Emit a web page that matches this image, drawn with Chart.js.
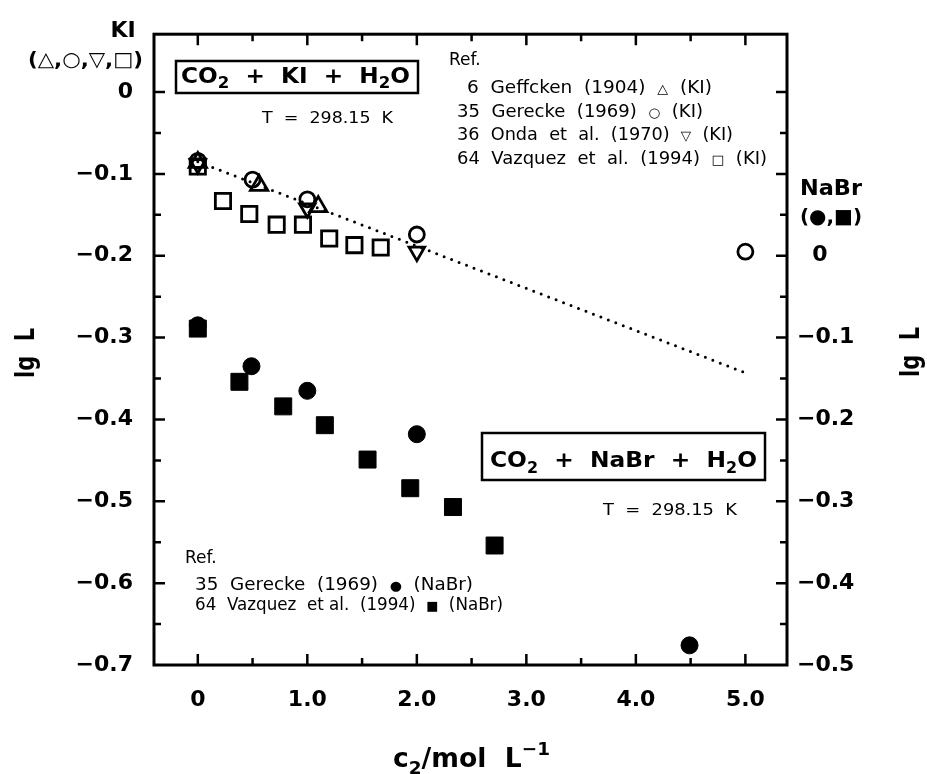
<!DOCTYPE html>
<html>
<head>
<meta charset="utf-8">
<script src="https://cdn.jsdelivr.net/npm/chart.js@4.4.1/dist/chart.umd.min.js"></script>
<style>
  html, body { margin: 0; padding: 0; background: #fff; }
  #wrap { width: 927px; height: 774px; }
</style>
</head>
<body>
<div id="wrap"><canvas id="chart" width="927" height="774"></canvas></div>
<script>
// values: c2 in mol/L, lg L
// KI series use the left axis, NaBr series the right axis
const kiGeffckenC = [0, 0.56, 1.1];
const kiGeffckenL = [-0.086, -0.114, -0.140];
const kiGereckeC = [0, 0.5, 1.0, 2.0, 5.0];
const kiGereckeL = [-0.084, -0.107, -0.131, -0.174, -0.195];
const kiOndaC = [0, 1.0, 2.0];
const kiOndaL = [-0.088, -0.142, -0.195];
const kiVazquezC = [0, 0.23, 0.47, 0.72, 0.96, 1.2, 1.43, 1.67];
const kiVazquezL = [-0.091, -0.133, -0.149, -0.162, -0.162, -0.179, -0.187, -0.190];
const kiTrendC = [0, 5.0];
const kiTrendL = [-0.085, -0.343];

const nabrGereckeC = [0, 0.49, 1.0, 2.0, 4.49];
const nabrGereckeL = [-0.085, -0.135, -0.165, -0.218, -0.476];
const nabrVazquezC = [0, 0.38, 0.78, 1.16, 1.55, 1.94, 2.33, 2.71];
const nabrVazquezL = [-0.089, -0.154, -0.184, -0.207, -0.249, -0.284, -0.307, -0.354];

const xTickValues = [0, 1, 2, 3, 4, 5];
const xTickLabels = ['0', '1.0', '2.0', '3.0', '4.0', '5.0'];
const leftTickValues = [0, -0.1, -0.2, -0.3, -0.4, -0.5, -0.6, -0.7];
const leftTickLabels = ['0', '\u22120.1', '\u22120.2', '\u22120.3', '\u22120.4', '\u22120.5', '\u22120.6', '\u22120.7'];
const rightTickValues = [0, -0.1, -0.2, -0.3, -0.4, -0.5];
const rightTickLabels = ['\u20070', '\u22120.1', '\u22120.2', '\u22120.3', '\u22120.4', '\u22120.5'];

const FONT = '"DejaVu Sans", sans-serif';

function pts(xs, ys){ return xs.map((x, i) => ({ x, y: ys[i] })); }

function openSet(label, xs, ys, style, radius, rotation){
  return {
    label, data: pts(xs, ys), yAxisID: 'yL',
    pointStyle: style, pointRadius: radius, pointRotation: rotation || 0,
    pointBackgroundColor: 'rgba(0,0,0,0)', pointBorderColor: '#000', pointBorderWidth: 2.8,
    showLine: false, order: 1
  };
}
function filledSet(label, xs, ys, style, radius){
  return {
    label, data: pts(xs, ys), yAxisID: 'yR',
    pointStyle: style, pointRadius: radius,
    pointBackgroundColor: '#000', pointBorderColor: '#000', pointBorderWidth: 1,
    showLine: false, order: 1
  };
}

// draws text made of parts (sub/superscripts), optionally squeezed to a width
function rich(ctx, parts, o){
  const size = o.size, weight = o.bold ? 'bold ' : '';
  const fontOf = p => weight + Math.round(size * (p.s || 1)) + 'px ' + FONT;
  let w = 0;
  parts.forEach(p => { ctx.font = fontOf(p); w += ctx.measureText(p.t).width; });
  const sx = o.width ? o.width / w : 1;
  ctx.save();
  ctx.translate(o.x, o.y);
  if (o.rotate) ctx.rotate(o.rotate);
  ctx.scale(sx, 1);
  ctx.fillStyle = '#000';
  ctx.textBaseline = 'alphabetic';
  ctx.textAlign = 'left';
  let cx = o.align === 'center' ? -w / 2 : 0;
  const base = o.rotate ? size * 0.36 : 0;
  parts.forEach(p => {
    ctx.font = fontOf(p);
    ctx.fillText(p.t, cx, base + (p.dy || 0) * size);
    cx += ctx.measureText(p.t).width;
  });
  ctx.restore();
}

const frameAndText = {
  id: 'frameAndText',
  afterDraw(chart){
    const ctx = chart.ctx, a = chart.chartArea;
    const sx = chart.scales.x, yl = chart.scales.yL, yr = chart.scales.yR;
    ctx.save();
    ctx.strokeStyle = '#000';
    ctx.lineWidth = 3;
    ctx.strokeRect(a.left, a.top, a.right - a.left, a.bottom - a.top);

    // inward ticks
    ctx.lineWidth = 2.5;
    ctx.beginPath();
    for (let i = 0; i <= 10; i++){
      const v = i * 0.5, px = sx.getPixelForValue(v), len = i % 2 ? 7 : 11;
      ctx.moveTo(px, a.bottom); ctx.lineTo(px, a.bottom - len);
      ctx.moveTo(px, a.top); ctx.lineTo(px, a.top + len);
    }
    for (let i = 0; i <= 13; i++){
      const v = -i * 0.05, py = yl.getPixelForValue(v), len = i % 2 ? 7 : 11;
      ctx.moveTo(a.left, py); ctx.lineTo(a.left + len, py);
    }
    for (let i = -4; i <= 9; i++){
      const v = -i * 0.05, py = yr.getPixelForValue(v), len = Math.abs(i) % 2 ? 7 : 11;
      ctx.moveTo(a.right, py); ctx.lineTo(a.right - len, py);
    }
    ctx.stroke();

    // boxes
    ctx.lineWidth = 2.5;
    ctx.strokeRect(176, 61, 242, 32);
    ctx.strokeRect(482, 433, 283, 47);
    ctx.restore();

    const sub = t => ({ t, s: 0.7, dy: 0.25 });
    rich(ctx, [{ t: 'KI' }], { x: 123, y: 37, size: 22, bold: true, align: 'center' });
    rich(ctx, [{ t: '(\u25B3,\u25CB,\u25BD,\u25A1)' }], { x: 28, y: 66, size: 20, bold: true, width: 115 });
    rich(ctx, [{ t: 'CO' }, sub('2'), { t: '  +  KI  +  H' }, sub('2'), { t: 'O' }],
      { x: 181, y: 83, size: 21, bold: true, width: 229 });
    rich(ctx, [{ t: 'T  =  298.15  K' }], { x: 262, y: 123, size: 16, width: 131 });

    rich(ctx, [{ t: 'Ref.' }], { x: 449, y: 65, size: 17 });
    const sym = t => ({ t, s: 0.75 });
    rich(ctx, [{ t: '6  Geffcken  (1904)  ' }, sym('\u25B3'), { t: '  (KI)' }], { x: 467, y: 93, size: 17, width: 245 });
    rich(ctx, [{ t: '35  Gerecke  (1969)  ' }, sym('\u25CB'), { t: '  (KI)' }], { x: 457, y: 117, size: 17, width: 246 });
    rich(ctx, [{ t: '36  Onda  et  al.  (1970)  ' }, sym('\u25BD'), { t: '  (KI)' }], { x: 457, y: 140, size: 17, width: 276 });
    rich(ctx, [{ t: '64  Vazquez  et  al.  (1994)  ' }, sym('\u25A1'), { t: '  (KI)' }], { x: 457, y: 164, size: 17, width: 310 });

    rich(ctx, [{ t: 'NaBr' }], { x: 800, y: 195, size: 22, bold: true, width: 62 });
    rich(ctx, [{ t: '(\u25CF,\u25A0)' }], { x: 800, y: 223, size: 20, bold: true, width: 62 });

    rich(ctx, [{ t: 'CO' }, sub('2'), { t: '  +  NaBr  +  H' }, sub('2'), { t: 'O' }],
      { x: 490, y: 467, size: 22, bold: true, width: 267 });
    rich(ctx, [{ t: 'T  =  298.15  K' }], { x: 603, y: 515, size: 16, width: 134 });

    rich(ctx, [{ t: 'Ref.' }], { x: 185, y: 563, size: 17 });
    rich(ctx, [{ t: '35  Gerecke  (1969)  ' }, sym('\u25CF'), { t: '  (NaBr)' }], { x: 195, y: 590, size: 17, width: 278 });
    rich(ctx, [{ t: '64  Vazquez  et al.  (1994)  ' }, sym('\u25A0'), { t: '  (NaBr)' }], { x: 195, y: 610, size: 17, width: 308 });

    // axis titles
    rich(ctx, [{ t: 'lg  L' }], { x: 25, y: 353, size: 26, bold: true, align: 'center', rotate: -Math.PI / 2, width: 50 });
    rich(ctx, [{ t: 'lg  L' }], { x: 910, y: 352, size: 26, bold: true, align: 'center', rotate: -Math.PI / 2, width: 50 });
    rich(ctx, [{ t: 'c' }, sub('2'), { t: '/mol  L' }, { t: '\u22121', s: 0.7, dy: -0.45 }],
      { x: 393, y: 767, size: 26, bold: true, width: 157 });
  }
};

const tickFont = { family: FONT, size: 22, weight: 'bold' };

new Chart(document.getElementById('chart').getContext('2d'), {
  type: 'scatter',
  data: {
    datasets: [
      {
        label: 'trend', data: pts(kiTrendC, kiTrendL), yAxisID: 'yL', showLine: true,
        borderColor: '#000', borderWidth: 3, borderDash: [0, 8], borderCapStyle: 'round',
        pointRadius: 0, order: 2
      },
      openSet('Geffcken (KI)', kiGeffckenC, kiGeffckenL, 'triangle', 10),
      openSet('Gerecke (KI)', kiGereckeC, kiGereckeL, 'circle', 7.5),
      openSet('Onda (KI)', kiOndaC, kiOndaL, 'triangle', 9, 180),
      openSet('Vazquez (KI)', kiVazquezC, kiVazquezL, 'rect', 10.8),
      filledSet('Gerecke (NaBr)', nabrGereckeC, nabrGereckeL, 'circle', 8.5),
      filledSet('Vazquez (NaBr)', nabrVazquezC, nabrVazquezL, 'rect', 12)
    ]
  },
  options: {
    responsive: false,
    animation: false,
    devicePixelRatio: 1,
    layout: { padding: { top: 33, left: 0, right: 0, bottom: 0 } },
    plugins: { legend: { display: false }, tooltip: { enabled: false } },
    scales: {
      x: {
        type: 'linear', position: 'bottom', min: -0.4, max: 5.38,
        grid: { display: false, drawTicks: false }, border: { display: false },
        afterBuildTicks: s => { s.ticks = xTickValues.map(v => ({ value: v })); },
        afterFit: s => { s.height = 109; },
        ticks: { font: tickFont, color: '#000', padding: 22, maxRotation: 0,
          callback: (v, i) => xTickLabels[i] }
      },
      yL: {
        type: 'linear', position: 'left', min: -0.7, max: 0.0707,
        grid: { display: false, drawTicks: false }, border: { display: false },
        afterBuildTicks: s => { s.ticks = leftTickValues.map(v => ({ value: v })); },
        afterFit: s => { s.width = 154; },
        ticks: { font: tickFont, color: '#000', padding: 21,
          callback: (v, i) => leftTickLabels[i] }
      },
      yR: {
        type: 'linear', position: 'right', min: -0.5, max: 0.2707,
        grid: { display: false, drawTicks: false }, border: { display: false },
        afterBuildTicks: s => { s.ticks = rightTickValues.map(v => ({ value: v })); },
        afterFit: s => { s.width = 140; },
        ticks: { font: tickFont, color: '#000', padding: 10,
          callback: (v, i) => rightTickLabels[i] }
      }
    }
  },
  plugins: [frameAndText]
});
</script>
</body>
</html>
